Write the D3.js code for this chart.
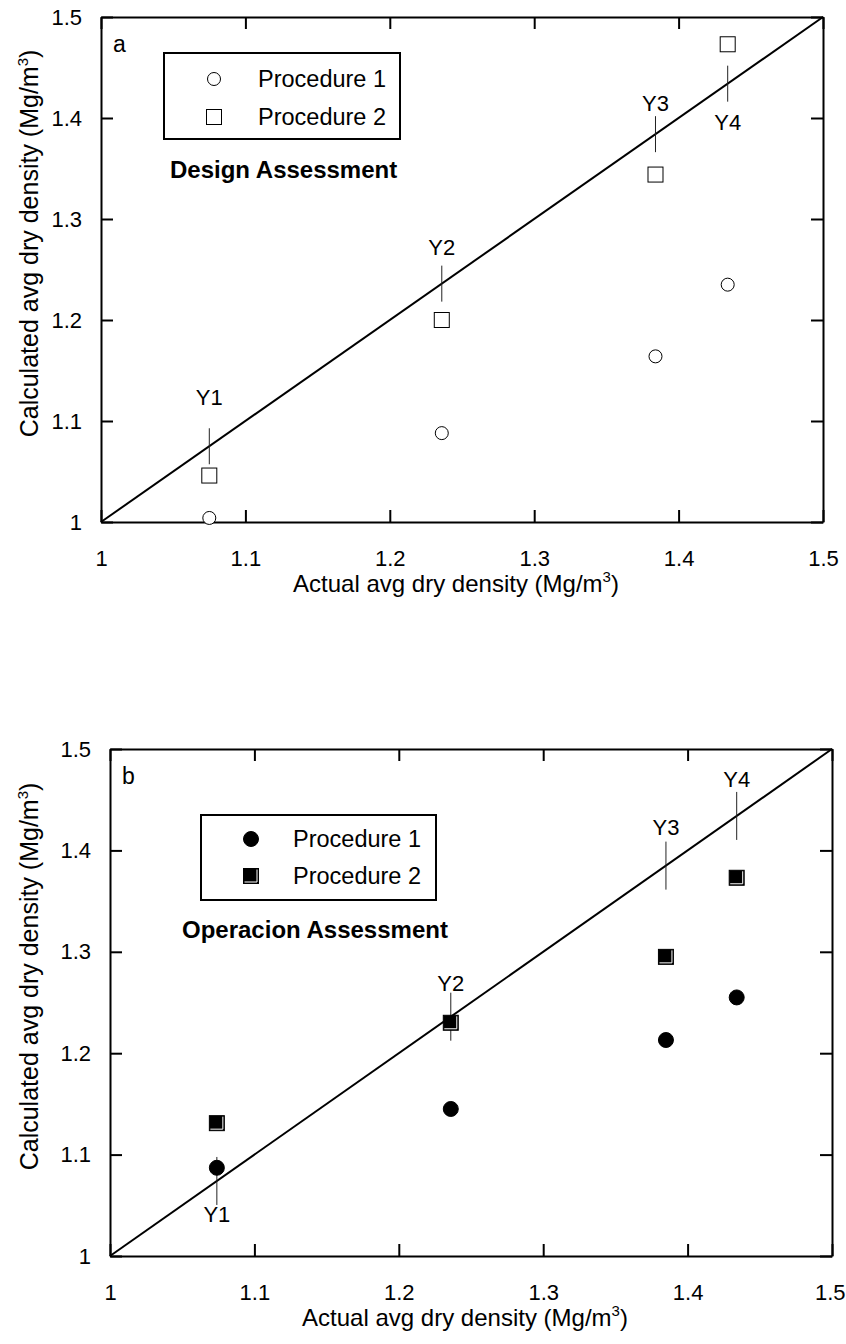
<!DOCTYPE html>
<html>
<head>
<meta charset="utf-8">
<script src="https://cdn.jsdelivr.net/npm/d3@7"></script>
<style>
  body { margin: 0; background: #fff; }
  svg { display: block; font-family: "Liberation Sans", Arial, sans-serif; }
</style>
</head>
<body>
<svg id="chart"></svg>
<script>
// tick values shared by both panels
let xTicks = [1, 1.1, 1.2, 1.3, 1.4, 1.5];
let yTicks = [1, 1.1, 1.2, 1.3, 1.4, 1.5];
let sites = ["Y1", "Y2", "Y3", "Y4"];
let seriesNames = ["Procedure 1", "Procedure 2"];

// panel a - design assessment
let actualA = [1.075, 1.236, 1.384, 1.434];
let designP1 = [1.004, 1.088, 1.164, 1.235];
let designP2 = [1.046, 1.200, 1.344, 1.473];
let labelYA = [1.123, 1.272, 1.415, 1.396];

// panel b - operation assessment
let actualB = [1.074, 1.236, 1.385, 1.434];
let operP1 = [1.087, 1.145, 1.213, 1.255];
let operP2 = [1.131, 1.230, 1.295, 1.373];
let labelYB = [1.041, 1.269, 1.423, 1.470];

let width = 846;
let height = 1344;

let svg = d3.select("#chart")
  .attr("width", width)
  .attr("height", height);

let panels = [
  {
    left: 101, right: 823, top: 17, bottom: 522,
    letter: "a", note: "Design Assessment", filled: false,
    x: actualA, p1: designP1, p2: designP2, labelY: labelYA, markHalf: 18,
    legend: { x: 164, y: 53, w: 236, h: 86, mx: 214, my: [79, 117], tx: 258 },
    noteX: 170, noteY: 178
  },
  {
    left: 110, right: 832, top: 749, bottom: 1256,
    letter: "b", note: "Operacion Assessment", filled: true,
    x: actualB, p1: operP1, p2: operP2, labelY: labelYB, markHalf: 24,
    legend: { x: 201, y: 815, w: 235, h: 85, mx: 251, my: [839, 876], tx: 293 },
    noteX: 182, noteY: 938
  }
];

let drawSquare = (g, cx, cy, filled) => {
  let s = 15;
  g.append("rect")
    .attr("x", cx - s / 2).attr("y", cy - s / 2)
    .attr("width", s).attr("height", s)
    .attr("fill", filled ? "#000" : "#fff")
    .attr("stroke", "#000").attr("stroke-width", 1);
  if (filled) {
    // thin white inner edge on right and bottom
    g.append("path")
      .attr("d", `M${cx + s / 2 - 1.5},${cy - s / 2 + 1}V${cy + s / 2 - 1.5}H${cx - s / 2 + 1}`)
      .attr("fill", "none").attr("stroke", "#fff").attr("stroke-width", 1);
  }
};

let drawCircle = (g, cx, cy, filled) => {
  g.append("circle")
    .attr("cx", cx).attr("cy", cy)
    .attr("r", filled ? 7.5 : 6.5)
    .attr("fill", filled ? "#000" : "#fff")
    .attr("stroke", "#000").attr("stroke-width", 1);
};

let drawPanel = (p) => {
  let xScale = d3.scaleLinear().domain([1, 1.5]).range([p.left, p.right]);
  let yScale = d3.scaleLinear().domain([1, 1.5]).range([p.bottom, p.top]);
  let g = svg.append("g");

  // axes, ticks point inward
  let xAxis = d3.axisBottom(xScale).tickValues(xTicks).tickSize(-12).tickSizeOuter(0)
    .tickPadding(28).tickFormat(d3.format("~g"));
  let yAxis = d3.axisLeft(yScale).tickValues(yTicks).tickSize(-12).tickSizeOuter(0)
    .tickPadding(19).tickFormat(d3.format("~g"));
  let xTop = d3.axisTop(xScale).tickValues(xTicks).tickSize(-12).tickSizeOuter(0).tickFormat("");
  let yRight = d3.axisRight(yScale).tickValues(yTicks).tickSize(-12).tickSizeOuter(0).tickFormat("");

  let gx = g.append("g").attr("transform", `translate(0,${p.bottom})`).call(xAxis);
  g.append("g").attr("transform", `translate(${p.left},0)`).call(yAxis);
  g.append("g").attr("transform", `translate(0,${p.top})`).call(xTop);
  g.append("g").attr("transform", `translate(${p.right},0)`).call(yRight);

  g.selectAll(".domain").attr("stroke", "#000").attr("stroke-width", 2);
  g.selectAll(".tick line").attr("stroke", "#000").attr("stroke-width", 2);
  g.selectAll(".tick text").attr("font-size", 22).attr("fill", "#000")
    .attr("font-family", "Liberation Sans, Arial, sans-serif");

  // keep the last x tick label inside the page
  gx.selectAll(".tick text").each(function(d) {
    let w = this.getComputedTextLength();
    let over = xScale(d) + w / 2 - (width - 1);
    if (over > 0) d3.select(this).attr("x", -over);
  });

  // 1:1 line
  g.append("line")
    .attr("x1", xScale(1)).attr("y1", yScale(1))
    .attr("x2", xScale(1.5)).attr("y2", yScale(1.5))
    .attr("stroke", "#000").attr("stroke-width", 2);

  // site markers on the 1:1 line and their labels
  sites.forEach((s, i) => {
    let xv = p.x[i];
    g.append("line")
      .attr("x1", xScale(xv)).attr("x2", xScale(xv))
      .attr("y1", yScale(xv) - p.markHalf).attr("y2", yScale(xv) + p.markHalf)
      .attr("stroke", "#222").attr("stroke-width", 1);
    g.append("text")
      .attr("x", xScale(xv)).attr("y", yScale(p.labelY[i]))
      .attr("dy", "0.35em")
      .attr("text-anchor", "middle")
      .attr("font-size", 22)
      .text(s);
  });

  // data points
  p.x.forEach((xv, i) => {
    drawSquare(g, xScale(xv), yScale(p.p2[i]), p.filled);
    drawCircle(g, xScale(xv), yScale(p.p1[i]), p.filled);
  });

  // panel letter
  g.append("text")
    .attr("x", p.left + 12).attr("y", p.top + 35)
    .attr("font-size", 23)
    .text(p.letter);

  // legend
  let lg = p.legend;
  g.append("rect")
    .attr("x", lg.x).attr("y", lg.y).attr("width", lg.w).attr("height", lg.h)
    .attr("fill", "#fff").attr("stroke", "#000").attr("stroke-width", 2);
  drawCircle(g, lg.mx, lg.my[0], p.filled);
  drawSquare(g, lg.mx, lg.my[1], p.filled);
  seriesNames.forEach((n, i) => {
    g.append("text")
      .attr("x", lg.tx).attr("y", lg.my[i])
      .attr("dy", "0.35em")
      .attr("font-size", 23.5)
      .text(n);
  });

  g.append("text")
    .attr("x", p.noteX).attr("y", p.noteY)
    .attr("font-size", 24).attr("font-weight", "bold")
    .text(p.note);

  // axis titles
  let xt = g.append("text")
    .attr("x", (p.left + p.right) / 2 - 6).attr("y", p.bottom + 70)
    .attr("text-anchor", "middle")
    .attr("font-size", 24);
  xt.append("tspan").text("Actual avg dry density (Mg/m");
  xt.append("tspan").attr("dy", -10).attr("font-size", 15).text("3");
  xt.append("tspan").attr("dy", 10).text(")");

  let cy = (p.top + p.bottom) / 2 - 26;
  let yt = g.append("text")
    .attr("transform", `translate(${38},${cy}) rotate(-90)`)
    .attr("text-anchor", "middle")
    .attr("font-size", 25);
  yt.append("tspan").text("Calculated avg dry density (Mg/m");
  yt.append("tspan").attr("dy", -10).attr("font-size", 15).text("3");
  yt.append("tspan").attr("dy", 10).text(")");
};

panels.forEach(drawPanel);
</script>
</body>
</html>
